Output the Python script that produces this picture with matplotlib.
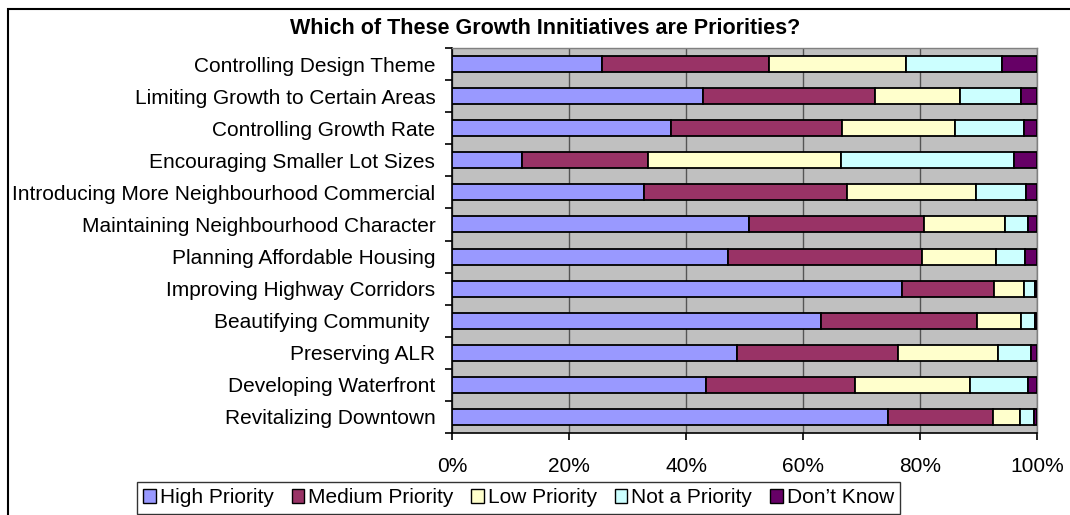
import matplotlib.pyplot as plt
import matplotlib.patches as mpatches
from matplotlib.ticker import PercentFormatter, FixedLocator
import numpy as np

plt.rcParams['font.family'] = ['Liberation Sans', 'DejaVu Sans']

initiatives = [
    "Controlling Design Theme",
    "Limiting Growth to Certain Areas",
    "Controlling Growth Rate",
    "Encouraging Smaller Lot Sizes",
    "Introducing More Neighbourhood Commercial",
    "Maintaining Neighbourhood Character",
    "Planning Affordable Housing",
    "Improving Highway Corridors",
    "Beautifying Community ",
    "Preserving ALR",
    "Developing Waterfront",
    "Revitalizing Downtown",
]

high = [25.7, 42.9, 37.4, 12.0, 32.8, 50.7, 47.2, 77.0, 63.0, 48.8, 43.4, 74.5]
medium = [28.5, 29.4, 29.3, 21.6, 34.7, 29.9, 33.2, 15.7, 26.6, 27.5, 25.5, 17.9]
low = [23.4, 14.5, 19.3, 32.9, 22.1, 13.9, 12.6, 5.0, 7.5, 17.0, 19.6, 4.7]
not_priority = [16.5, 10.3, 11.8, 29.6, 8.6, 3.9, 5.1, 2.0, 2.5, 5.6, 10.0, 2.4]
dont_know = [5.9, 2.8, 2.3, 4.0, 1.8, 1.5, 2.0, 0.3, 0.3, 1.1, 1.5, 0.5]

series_names = ["High Priority", "Medium Priority", "Low Priority",
                "Not a Priority", "Don\u2019t Know"]
colors = ["#9999FF", "#993366", "#FFFFCC", "#CCFFFF", "#660066"]

fig = plt.figure(figsize=(10.7, 5.15), dpi=100)
ax = fig.add_axes([452 / 1070, 1 - 433 / 515, 585 / 1070, 385 / 515])
ax.set_facecolor("#C0C0C0")

data = np.array([high, medium, low, not_priority, dont_know], dtype=float)
data = data / data.sum(axis=0) * 100
ypos = np.arange(len(initiatives))
left = np.zeros(len(initiatives))
handles = []
for vals, name, col in zip(data, series_names, colors):
    ax.barh(ypos, vals, left=left, height=0.5, color=col,
            edgecolor="black", linewidth=1.3, zorder=3)
    left += vals
    handles.append(mpatches.Patch(facecolor=col, edgecolor="black",
                                  linewidth=1, label=name))

ax.set_xlim(0, 100)
ax.set_ylim(len(initiatives) - 0.5, -0.5)
ax.set_xticks(np.arange(0, 101, 20))
ax.xaxis.set_major_formatter(PercentFormatter(decimals=0))
ax.grid(axis="x", color="#555555", linewidth=1, zorder=1)

ax.set_yticks(ypos)
ax.set_yticklabels(initiatives, fontsize=15)
ax.yaxis.set_minor_locator(FixedLocator(np.arange(-0.5, len(initiatives), 1)))
ax.tick_params(axis="y", which="major", length=0, pad=12)
ax.tick_params(axis="y", which="minor", length=5, width=1.2, direction="out")
ax.tick_params(axis="x", length=5, width=1.2, direction="out",
               labelsize=15, pad=12)

for side in ["left", "bottom"]:
    ax.spines[side].set_color("black")
    ax.spines[side].set_linewidth(1.2)
for side in ["top", "right"]:
    ax.spines[side].set_color("#808080")
    ax.spines[side].set_linewidth(1)

fig.text(545 / 1070, 1 - 28 / 515, "Which of These Growth Innitiatives are Priorities?",
         ha="center", va="center", fontsize=15.5, fontweight="bold")

# outer chart frame
fig.add_artist(mpatches.Rectangle((8 / 1070, -0.1), 1.2, 1.1 - 9 / 515,
                                  transform=fig.transFigure, fill=False,
                                  edgecolor="black", linewidth=1.5))

leg = fig.legend(handles=handles, loc="upper left",
                 bbox_to_anchor=(137 / 1070, 1 - 482 / 515), ncol=5,
                 fontsize=15, frameon=True, fancybox=False,
                 edgecolor="black", handlelength=0.6, handleheight=0.6,
                 handletextpad=0.2, columnspacing=0.85, borderpad=0.3,
                 borderaxespad=0)
leg.get_frame().set_linewidth(1)

fig.savefig("out.png", dpi=100)
